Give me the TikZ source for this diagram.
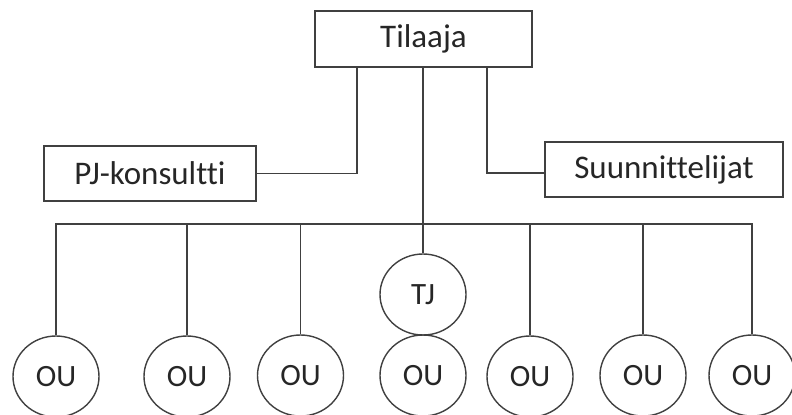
\documentclass[tikz,border=0pt]{standalone}
\usepackage{fontspec}
\setmainfont{Carlito}[Ligatures={NoCommon}]
\usetikzlibrary{shapes.geometric}
\definecolor{linegray}{HTML}{404040}
\definecolor{textgray}{HTML}{262626}
\tikzset{
  boxnode/.style={draw=linegray, line width=1.4bp, rectangle, inner sep=0pt, text=textgray,
    font=\fontsize{33bp}{36bp}\selectfont},
  ellnode/.style={draw=linegray, line width=1.4bp, ellipse, inner sep=0pt, minimum width=86bp,
    minimum height=81bp, text=textgray, font=\fontsize{31bp}{34bp}\selectfont},
  conn/.style={draw=linegray, line width=1.4bp}
}
\begin{document}
\begin{tikzpicture}[x=1bp, y=-1bp]
\useasboundingbox (0,0) rectangle (792,414);
\node[boxnode, minimum width=217bp, minimum height=56bp] (til) at (423.5,39) {Tilaaja};
\node[boxnode, minimum width=212bp, minimum height=55bp] (pj) at (150,173.5) {PJ-konsultti};
\node[boxnode, minimum width=238bp, minimum height=55bp] (su) at (664,169.5) {Suunnittelijat};
\node[ellnode] (tj) at (423,294.5) {TJ};
\node[ellnode] (ou1) at (56,376.5) {OU};
\node[ellnode] (ou2) at (187,376.5) {OU};
\node[ellnode] (ou3) at (300.5,375.5) {OU};
\node[ellnode] (ou4) at (423,375.5) {OU};
\node[ellnode] (ou5) at (530,376.5) {OU};
\node[ellnode] (ou6) at (643,375.5) {OU};
\node[ellnode] (ou7) at (752,375.5) {OU};
\coordinate (bus) at (0,224);
\draw[conn] ([xshift=-66.5bp]til.south) |- (pj.east);
\draw[conn] ([xshift=63.5bp]til.south) |- ([yshift=-3.5bp]su.west);
\draw[conn] (tj.north |- til.south) -- (tj.north);
\draw[conn] (ou1.north) -- (ou1.north |- bus) -- (ou7.north |- bus) -- (ou7.north);
\foreach \n in {ou2,ou3,ou5,ou6} \draw[conn] (\n.north) -- (\n.north |- bus);
\end{tikzpicture}
\end{document}
